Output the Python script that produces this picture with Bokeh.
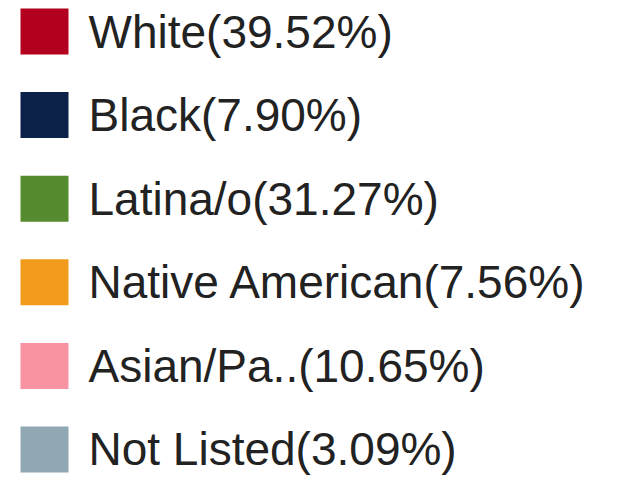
from bokeh.plotting import figure
from bokeh.models import Range1d, ColumnDataSource
from bokeh.core.properties import value
from bokeh.embed import file_html
from bokeh.resources import INLINE

categories = ["White", "Black", "Latina/o", "Native American", "Asian/Pa..", "Not Listed"]
percents = [39.52, 7.90, 31.27, 7.56, 10.65, 3.09]
colors = ["#b3001f", "#0c2149", "#568a2e", "#f19b1d", "#f893a3", "#8fa8b1"]

labels = [f"{c}({v:.2f}%)" for c, v in zip(categories, percents)]
rows = list(range(len(categories)))

W, H = 603, 476
p = figure(width=W, height=H, output_backend="svg", toolbar_location=None,
           x_range=Range1d(0, W), y_range=Range1d(5.323, -0.371),
           min_border=0, outline_line_color=None)
p.axis.visible = False
p.grid.visible = False
p.background_fill_color = "white"
p.border_fill_color = "white"

src = ColumnDataSource(dict(y=rows, label=labels, color=colors,
                            sx=[44] * len(rows), tx=[88] * len(rows)))
p.rect(x="sx", y="y", width=48, height=46, width_units="screen", height_units="screen",
       fill_color="color", line_color=None, source=src)
p.text(x="tx", y="y", text="label", source=src, text_font=value("Liberation Sans"),
       text_font_size="46px", text_baseline="middle", text_align="left",
       text_color="#222222")

open("out.html", "w").write(file_html(p, INLINE))
